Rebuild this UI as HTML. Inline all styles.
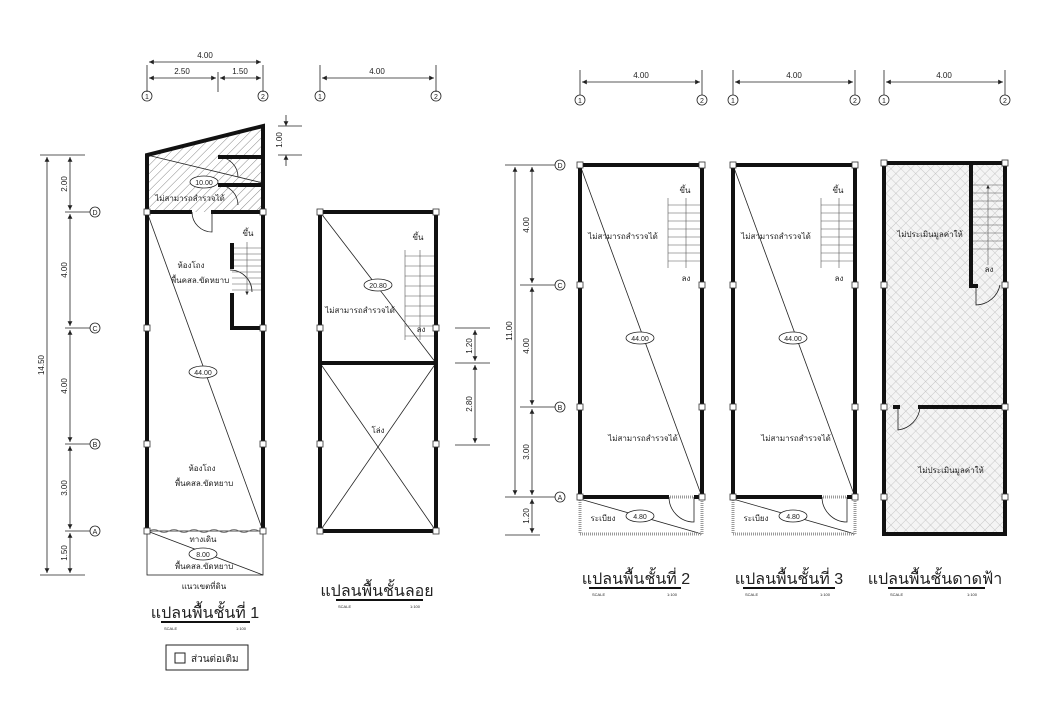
<!DOCTYPE html>
<html><head><meta charset="utf-8"><style>
html,body{margin:0;padding:0;background:#fff;}
svg{display:block;}
text{font-family:"Liberation Sans","Noto Sans CJK SC",sans-serif;fill:#222;}
.th{font-family:"Liberation Serif","Noto Serif CJK SC",serif;}
</style></head><body>
<svg width="1040" height="720" viewBox="0 0 1040 720" xmlns="http://www.w3.org/2000/svg">
<defs>
<pattern id="hatch" width="6" height="6" patternUnits="userSpaceOnUse" patternTransform="rotate(45)">
<rect width="6" height="6" fill="#fff"/><line x1="0" y1="0" x2="0" y2="6" stroke="#888" stroke-width="1"/></pattern>
<pattern id="cross" width="7" height="7" patternUnits="userSpaceOnUse" patternTransform="rotate(45)">
<rect width="7" height="7" fill="#f4f4f4"/><path d="M0 0H7M0 0V7" stroke="#bbb" stroke-width="0.8"/></pattern>
<marker id="ar" viewBox="0 0 6 6" refX="6" refY="3" markerWidth="6" markerHeight="6" orient="auto-start-reverse"><path d="M0 0L6 3L0 6z" fill="#222"/></marker>
</defs>
<g stroke="#222" fill="none" stroke-width="0.8">
<!-- ===== PLAN 1 top dims ===== -->
<line x1="147" y1="65" x2="147" y2="92"/><line x1="263" y1="65" x2="263" y2="92"/><line x1="218" y1="72" x2="218" y2="92"/>
<line x1="149" y1="62" x2="261" y2="62" marker-start="url(#ar)" marker-end="url(#ar)"/>
<line x1="149" y1="78" x2="216" y2="78" marker-start="url(#ar)" marker-end="url(#ar)"/>
<line x1="220" y1="78" x2="261" y2="78" marker-start="url(#ar)" marker-end="url(#ar)"/>
<circle cx="147" cy="96" r="5"/><circle cx="263" cy="96" r="5"/>
<!-- 1.00 dim -->
<line x1="278" y1="126" x2="302" y2="126"/><line x1="278" y1="155" x2="302" y2="155"/>
<line x1="286" y1="115" x2="286" y2="126" marker-end="url(#ar)"/><line x1="286" y1="166" x2="286" y2="155" marker-end="url(#ar)"/>
<!-- left dims -->
<line x1="40" y1="155" x2="85" y2="155"/><line x1="40" y1="575" x2="85" y2="575"/>
<line x1="47" y1="157" x2="47" y2="573" marker-start="url(#ar)" marker-end="url(#ar)"/>
<line x1="70" y1="157" x2="70" y2="210" marker-start="url(#ar)" marker-end="url(#ar)"/>
<line x1="70" y1="214" x2="70" y2="326" marker-start="url(#ar)" marker-end="url(#ar)"/>
<line x1="70" y1="330" x2="70" y2="442" marker-start="url(#ar)" marker-end="url(#ar)"/>
<line x1="70" y1="446" x2="70" y2="529" marker-start="url(#ar)" marker-end="url(#ar)"/>
<line x1="70" y1="533" x2="70" y2="573" marker-start="url(#ar)" marker-end="url(#ar)"/>
<line x1="65" y1="212" x2="90" y2="212"/><line x1="65" y1="328" x2="90" y2="328"/><line x1="65" y1="444" x2="90" y2="444"/><line x1="65" y1="531" x2="90" y2="531"/>
<circle cx="95" cy="212" r="5"/><circle cx="95" cy="328" r="5"/><circle cx="95" cy="444" r="5"/><circle cx="95" cy="531" r="5"/>
<!-- plan1 body -->
<polygon points="147,155 263,126 263,212 147,212" fill="url(#hatch)" stroke="none"/>
<line x1="147" y1="155" x2="263" y2="183"/>
<line x1="147" y1="212" x2="263" y2="531"/>
<line x1="147" y1="531" x2="263" y2="575"/>
<rect x="147" y="531" width="116" height="44"/>
<path d="M149 531 q5 -3 10 0 t10 0 t10 0 t10 0 t10 0 t10 0 t10 0 t10 0 t10 0 t10 0 t10 0" stroke="#666"/>
<!-- doors -->
<path d="M192 212 A20 20 0 0 0 212 232 L212 212"/>
<path d="M218 157 A20 20 0 0 1 238 177"/><path d="M218 185 A20 20 0 0 1 238 205"/>
<path d="M230 270 A22 22 0 0 1 252 292"/>
<!-- stairs -->
<g stroke="#555" stroke-width="0.6">
<line x1="232" y1="248" x2="262" y2="248"/><line x1="232" y1="254" x2="262" y2="254"/><line x1="232" y1="260" x2="262" y2="260"/><line x1="232" y1="266" x2="262" y2="266"/><line x1="232" y1="272" x2="262" y2="272"/><line x1="232" y1="278" x2="262" y2="278"/><line x1="232" y1="284" x2="262" y2="284"/><line x1="232" y1="290" x2="262" y2="290"/>
<line x1="247" y1="242" x2="247" y2="295" marker-end="url(#ar)"/>
</g>
<!-- ===== LOFT ===== -->
<line x1="320" y1="65" x2="320" y2="92"/><line x1="436" y1="65" x2="436" y2="92"/>
<line x1="322" y1="78" x2="434" y2="78" marker-start="url(#ar)" marker-end="url(#ar)"/>
<circle cx="320" cy="96" r="5"/><circle cx="436" cy="96" r="5"/>
<line x1="320" y1="212" x2="436" y2="363"/>
<line x1="320" y1="363" x2="436" y2="531"/><line x1="436" y1="363" x2="320" y2="531"/>
<g stroke="#555" stroke-width="0.6">
<line x1="405" y1="250" x2="405" y2="340"/>
<line x1="405" y1="256" x2="434" y2="256"/><line x1="405" y1="266" x2="434" y2="266"/><line x1="405" y1="276" x2="434" y2="276"/><line x1="405" y1="286" x2="434" y2="286"/><line x1="405" y1="296" x2="434" y2="296"/><line x1="405" y1="306" x2="434" y2="306"/><line x1="405" y1="316" x2="434" y2="316"/><line x1="405" y1="326" x2="434" y2="326"/><line x1="405" y1="336" x2="434" y2="336"/>
<line x1="420" y1="250" x2="420" y2="340"/>
</g>
<!-- 1.20 / 2.80 dims -->
<line x1="455" y1="328" x2="490" y2="328"/><line x1="455" y1="363" x2="490" y2="363"/><line x1="455" y1="445" x2="490" y2="445"/>
<line x1="475" y1="330" x2="475" y2="361" marker-start="url(#ar)" marker-end="url(#ar)"/>
<line x1="475" y1="365" x2="475" y2="443" marker-start="url(#ar)" marker-end="url(#ar)"/>
<!-- ===== right dims ===== -->
<line x1="505" y1="165" x2="555" y2="165"/><line x1="505" y1="497" x2="555" y2="497"/><line x1="505" y1="535" x2="540" y2="535"/>
<line x1="520" y1="285" x2="555" y2="285"/><line x1="520" y1="407" x2="555" y2="407"/>
<line x1="515" y1="167" x2="515" y2="495" marker-start="url(#ar)" marker-end="url(#ar)"/>
<line x1="532" y1="167" x2="532" y2="283" marker-start="url(#ar)" marker-end="url(#ar)"/>
<line x1="532" y1="287" x2="532" y2="405" marker-start="url(#ar)" marker-end="url(#ar)"/>
<line x1="532" y1="409" x2="532" y2="495" marker-start="url(#ar)" marker-end="url(#ar)"/>
<line x1="532" y1="499" x2="532" y2="533" marker-start="url(#ar)" marker-end="url(#ar)"/>
<circle cx="560" cy="165" r="5"/><circle cx="560" cy="285" r="5"/><circle cx="560" cy="407" r="5"/><circle cx="560" cy="497" r="5"/>
</g>
<!-- plan 2 & 3 -->
<g id="p2" stroke="#222" fill="none" stroke-width="0.8">
<line x1="580" y1="70" x2="580" y2="95"/><line x1="702" y1="70" x2="702" y2="95"/>
<line x1="582" y1="82" x2="700" y2="82" marker-start="url(#ar)" marker-end="url(#ar)"/>
<circle cx="580" cy="100" r="5"/><circle cx="702" cy="100" r="5"/>
<line x1="580" y1="165" x2="702" y2="497"/>
<line x1="580" y1="499" x2="702" y2="534"/>
<rect x="580" y="497" width="122" height="37" stroke="#999" stroke-width="3" stroke-dasharray="1 1"/>
<path d="M669 497 A25 25 0 0 0 694 522 L694 497"/>
<g stroke="#555" stroke-width="0.6">
<line x1="668" y1="198" x2="668" y2="268"/>
<line x1="668" y1="205" x2="700" y2="205"/><line x1="668" y1="213" x2="700" y2="213"/><line x1="668" y1="221" x2="700" y2="221"/><line x1="668" y1="229" x2="700" y2="229"/><line x1="668" y1="237" x2="700" y2="237"/><line x1="668" y1="245" x2="700" y2="245"/><line x1="668" y1="253" x2="700" y2="253"/><line x1="668" y1="261" x2="700" y2="261"/>
<line x1="686" y1="198" x2="686" y2="268"/>
</g>
</g>
<use href="#p2" x="153"/>
<!-- roof -->
<g stroke="#222" fill="none" stroke-width="0.8">
<line x1="884" y1="70" x2="884" y2="95"/><line x1="1005" y1="70" x2="1005" y2="95"/>
<line x1="886" y1="82" x2="1003" y2="82" marker-start="url(#ar)" marker-end="url(#ar)"/>
<circle cx="884" cy="100" r="5"/><circle cx="1005" cy="100" r="5"/>
<rect x="884" y="163" width="121" height="371" fill="url(#cross)" stroke="none"/>
<g stroke="#555" stroke-width="0.6">
<line x1="973" y1="185" x2="1003" y2="185"/><line x1="973" y1="193" x2="1003" y2="193"/><line x1="973" y1="201" x2="1003" y2="201"/><line x1="973" y1="209" x2="1003" y2="209"/><line x1="973" y1="217" x2="1003" y2="217"/><line x1="973" y1="225" x2="1003" y2="225"/><line x1="973" y1="233" x2="1003" y2="233"/><line x1="973" y1="241" x2="1003" y2="241"/><line x1="973" y1="249" x2="1003" y2="249"/>
<line x1="988" y1="265" x2="988" y2="185" marker-end="url(#ar)"/>
</g>
<path d="M976 288 L976 305 A25 25 0 0 0 1000 285"/>
<path d="M898 407 L898 430 A25 25 0 0 0 920 407"/>
</g>
<!-- thick walls -->
<g stroke="#111" stroke-width="4" fill="none" stroke-linecap="square">
<path d="M147 531 V155 L263 126 V531"/>
<path d="M147 212 H190 M213 212 H263"/>
<path d="M220 157 H261 M220 185 H261"/>
<path d="M232 245 V267 M232 295 V328 H262"/>
<path d="M320 531 V212 H436 V531 M320 363 H436 M320 531 H436"/>
<path d="M580 497 V165 H702 V497 M580 497 H667 M696 497 H702"/>
<path d="M733 497 V165 H855 V497 M733 497 H820 M849 497 H855"/>
<path d="M884 534 V163 H1005 V534 H884 M971 163 V286 H976 M895 407 H898 M920 407 H1005"/>
</g>
<!-- column squares -->
<g fill="#fff" stroke="#333" stroke-width="0.8">
<rect x="144" y="209" width="6" height="6"/><rect x="260" y="209" width="6" height="6"/><rect x="144" y="325" width="6" height="6"/><rect x="260" y="325" width="6" height="6"/><rect x="144" y="441" width="6" height="6"/><rect x="260" y="441" width="6" height="6"/><rect x="144" y="528" width="6" height="6"/><rect x="260" y="528" width="6" height="6"/>
<rect x="317" y="209" width="6" height="6"/><rect x="433" y="209" width="6" height="6"/><rect x="317" y="325" width="6" height="6"/><rect x="433" y="325" width="6" height="6"/><rect x="317" y="441" width="6" height="6"/><rect x="433" y="441" width="6" height="6"/><rect x="317" y="528" width="6" height="6"/><rect x="433" y="528" width="6" height="6"/>
<rect x="577" y="162" width="6" height="6"/><rect x="699" y="162" width="6" height="6"/><rect x="577" y="282" width="6" height="6"/><rect x="699" y="282" width="6" height="6"/><rect x="577" y="404" width="6" height="6"/><rect x="699" y="404" width="6" height="6"/><rect x="577" y="494" width="6" height="6"/><rect x="699" y="494" width="6" height="6"/>
<rect x="730" y="162" width="6" height="6"/><rect x="852" y="162" width="6" height="6"/><rect x="730" y="282" width="6" height="6"/><rect x="852" y="282" width="6" height="6"/><rect x="730" y="404" width="6" height="6"/><rect x="852" y="404" width="6" height="6"/><rect x="730" y="494" width="6" height="6"/><rect x="852" y="494" width="6" height="6"/>
<rect x="881" y="160" width="6" height="6"/><rect x="1002" y="160" width="6" height="6"/><rect x="881" y="282" width="6" height="6"/><rect x="1002" y="282" width="6" height="6"/><rect x="881" y="404" width="6" height="6"/><rect x="1002" y="404" width="6" height="6"/><rect x="881" y="494" width="6" height="6"/><rect x="1002" y="494" width="6" height="6"/>
</g>
<!-- area ellipses -->
<g fill="#fff" stroke="#222" stroke-width="0.8">
<ellipse cx="204" cy="182" rx="14" ry="6"/><ellipse cx="203" cy="372" rx="14" ry="6"/><ellipse cx="203" cy="554" rx="14" ry="6"/>
<ellipse cx="378" cy="285" rx="14" ry="6"/>
<ellipse cx="640" cy="338" rx="14" ry="6"/><ellipse cx="640" cy="516" rx="14" ry="6"/>
<ellipse cx="793" cy="338" rx="14" ry="6"/><ellipse cx="793" cy="516" rx="14" ry="6"/>
</g>
<g font-size="7" text-anchor="middle">
<text x="204" y="185">10.00</text><text x="203" y="375">44.00</text><text x="203" y="557">8.00</text><text x="378" y="288">20.80</text>
<text x="640" y="341">44.00</text><text x="640" y="519">4.80</text><text x="793" y="341">44.00</text><text x="793" y="519">4.80</text>
</g>
<!-- numbers -->
<g font-size="8" text-anchor="middle">
<text x="205" y="58">4.00</text><text x="182" y="74">2.50</text><text x="240" y="74">1.50</text><text x="377" y="74">4.00</text>
<text x="641" y="78">4.00</text><text x="794" y="78">4.00</text><text x="944" y="78">4.00</text>
</g>
<g font-size="7" text-anchor="middle">
<text x="147" y="99">1</text><text x="263" y="99">2</text><text x="320" y="99">1</text><text x="436" y="99">2</text>
<text x="580" y="103">1</text><text x="702" y="103">2</text><text x="733" y="103">1</text><text x="855" y="103">2</text><text x="884" y="103">1</text><text x="1005" y="103">2</text>
<text x="95" y="215">D</text><text x="95" y="331">C</text><text x="95" y="447">B</text><text x="95" y="534">A</text>
<text x="560" y="168">D</text><text x="560" y="288">C</text><text x="560" y="410">B</text><text x="560" y="500">A</text>
</g>
<g font-size="8" text-anchor="middle">
<text transform="translate(282,140) rotate(-90)">1.00</text>
<text transform="translate(44,365) rotate(-90)">14.50</text>
<text transform="translate(67,184) rotate(-90)">2.00</text><text transform="translate(67,270) rotate(-90)">4.00</text>
<text transform="translate(67,386) rotate(-90)">4.00</text><text transform="translate(67,488) rotate(-90)">3.00</text><text transform="translate(67,553) rotate(-90)">1.50</text>
<text transform="translate(472,346) rotate(-90)">1.20</text><text transform="translate(472,404) rotate(-90)">2.80</text>
<text transform="translate(512,331) rotate(-90)">11.00</text>
<text transform="translate(529,225) rotate(-90)">4.00</text><text transform="translate(529,346) rotate(-90)">4.00</text><text transform="translate(529,452) rotate(-90)">3.00</text><text transform="translate(529,516) rotate(-90)">1.20</text>
</g>
<!-- thai labels -->
<g font-size="8" text-anchor="middle">
<text x="190" y="201">ไม่สามารถสำรวจได้</text>
<text x="191" y="268">ห้องโถง</text><text x="200" y="283">พื้นคสล.ขัดหยาบ</text>
<text x="202" y="471">ห้องโถง</text><text x="204" y="486">พื้นคสล.ขัดหยาบ</text>
<text x="203" y="542">ทางเดิน</text><text x="204" y="569">พื้นคสล.ขัดหยาบ</text>
<text x="204" y="589">แนวเขตที่ดิน</text>
<text x="248" y="236">ขึ้น</text>
<text x="418" y="240">ขึ้น</text><text x="360" y="313">ไม่สามารถสำรวจได้</text><text x="421" y="332">ลง</text><text x="378" y="433">โล่ง</text>
<text x="623" y="239">ไม่สามารถสำรวจได้</text><text x="643" y="441">ไม่สามารถสำรวจได้</text><text x="685" y="193">ขึ้น</text><text x="686" y="281">ลง</text><text x="603" y="521">ระเบียง</text>
<text x="776" y="239">ไม่สามารถสำรวจได้</text><text x="796" y="441">ไม่สามารถสำรวจได้</text><text x="838" y="193">ขึ้น</text><text x="839" y="281">ลง</text><text x="756" y="521">ระเบียง</text>
<text x="930" y="237">ไม่ประเมินมูลค่าให้</text><text x="951" y="473">ไม่ประเมินมูลค่าให้</text><text x="989" y="272">ลง</text>
</g>
<!-- titles -->
<g class="th" font-size="16" text-anchor="middle">
<text x="205" y="618">แปลนพื้นชั้นที่ 1</text>
<text x="377" y="596">แปลนพื้นชั้นลอย</text>
<text x="636" y="584">แปลนพื้นชั้นที่ 2</text>
<text x="789" y="584">แปลนพื้นชั้นที่ 3</text>
<text x="935" y="584">แปลนพื้นชั้นดาดฟ้า</text>
</g>
<g stroke="#111" stroke-width="2">
<line x1="161" y1="622" x2="250" y2="622"/><line x1="336" y1="600" x2="423" y2="600"/>
<line x1="589" y1="588" x2="681" y2="588"/><line x1="743" y1="588" x2="835" y2="588"/><line x1="888" y1="588" x2="985" y2="588"/>
</g>
<g font-size="4" fill="#444">
<text x="164" y="630">SCALE</text><text x="236" y="630">1:100</text>
<text x="338" y="608">SCALE</text><text x="410" y="608">1:100</text>
<text x="592" y="596">SCALE</text><text x="667" y="596">1:100</text>
<text x="745" y="596">SCALE</text><text x="820" y="596">1:100</text>
<text x="890" y="596">SCALE</text><text x="967" y="596">1:100</text>
</g>
<rect x="166" y="645" width="82" height="25" fill="none" stroke="#222" stroke-width="1"/>
<rect x="175" y="653" width="10" height="10" fill="none" stroke="#222" stroke-width="1"/>
<text x="191" y="662" font-size="10">ส่วนต่อเติม</text>
</svg>
</body></html>
